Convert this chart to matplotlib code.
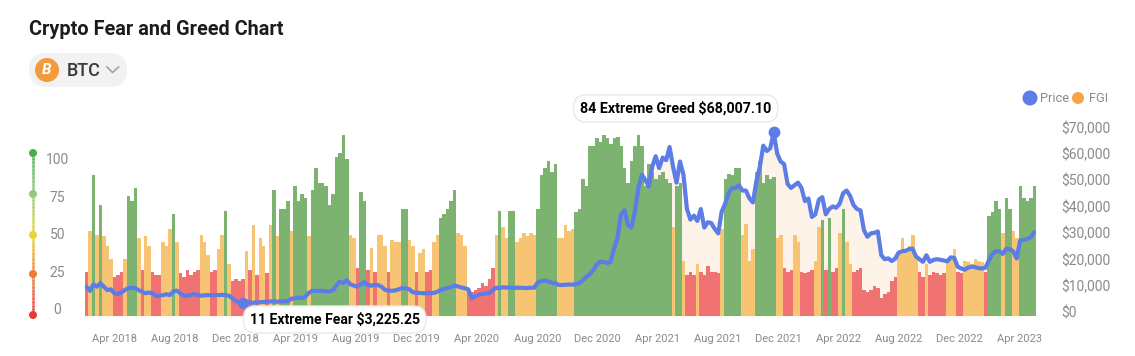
import datetime as dt
import matplotlib
matplotlib.use("Agg")
import matplotlib.pyplot as plt
import matplotlib.dates as mdates
from matplotlib.patches import FancyBboxPatch, Circle
from matplotlib.collections import LineCollection
from matplotlib.colors import to_rgb

plt.rcParams['font.family'] = ['Roboto', 'DejaVu Sans']

start_date = dt.date(2018, 2, 1)
title = "Crypto Fear and Greed Chart"
coin = "BTC"

# Weekly FGI
fgi = [
    24,46,76,44,60,43,38,31,21,22,
    24,31,65,62,69,42,25,43,38,24,
    22,22,40,38,47,55,40,23,21,25,
    22,24,25,44,40,33,24,25,36,44,
    57,28,19,20,19,20,35,25,49,22,
    42,38,23,49,68,43,58,58,62,46,
    70,62,66,64,43,68,80,72,72,70,
    60,66,86,88,98,85,44,42,26,67,
    62,25,37,24,44,44,38,24,41,40,
    40,58,58,41,38,24,34,36,24,25,
    40,44,53,55,58,62,68,45,44,38,
    14,13,14,15,18,16,20,26,44,57,
    48,42,57,57,40,42,45,43,45,44,
    58,76,80,84,78,82,42,42,49,46,
    47,56,58,74,70,92,92,96,94,98,
    96,93,96,97,92,80,72,84,92,98,
    92,70,82,78,74,76,78,74,72,48,
    70,72,30,22,24,22,28,24,22,27,
    24,24,23,47,74,77,76,80,80,44,
    50,30,36,78,84,72,76,74,75,42,
    44,26,24,25,44,40,24,23,24,25,
    30,48,52,25,53,24,26,45,58,40,
    28,24,25,26,14,13,14,16,15,10,
    12,13,19,21,34,42,35,38,44,33,
    24,21,28,22,24,23,22,23,30,32,
    36,24,23,30,29,28,31,30,29,24,
    54,56,62,58,45,64,58,46,42,70,
    64,62,64,70,
]

# Weekly BTC price in thousand dollars
price_k = [
    9.6,8.0,10.5,9.6,10.9,9.6,8.3,8.6,7.1,6.8,
    7.3,8.3,9.0,9.2,9.0,8.3,7.7,7.1,7.4,7.1,
    6.2,6.1,6.4,6.7,6.4,7.7,8.1,7.1,6.2,6.2,
    6.4,6.8,6.4,6.2,6.3,6.4,6.4,6.4,6.4,6.5,
    6.4,6.2,5.2,4.2,3.7,3.2255,3.9,3.6,3.5,3.6,
    3.7,3.8,3.9,4.0,4.0,3.9,4.0,4.0,4.1,5.0,
    5.2,5.4,5.3,5.7,7.2,8.0,8.0,8.0,8.0,7.8,
    7.8,8.2,10.0,11.5,11.0,12.0,10.5,10.0,9.6,10.5,
    11.3,10.2,10.0,10.2,10.2,9.6,8.4,8.1,8.0,8.2,
    8.6,9.1,8.9,8.6,7.5,7.3,7.2,7.1,7.1,7.1,
    7.2,7.6,8.3,8.7,9.0,9.4,10.0,9.7,9.3,9.0,
    8.6,5.2,6.0,6.5,6.8,7.0,7.2,8.2,9.2,9.0,
    9.4,9.2,9.3,9.1,9.2,9.2,9.1,9.1,9.2,9.2,
    11.2,11.7,11.9,11.6,11.1,10.9,10.3,10.2,10.3,10.4,
    10.4,10.5,11.0,12.0,13.2,14.3,15.8,18.0,19.0,19.0,
    18.5,19.0,24.0,28.0,37.0,38.5,33.0,32.0,38.0,46.8,
    52.0,50.0,47.5,55.0,59.0,54.5,58.5,57.5,62.5,55.0,
    49.0,57.0,52.0,39.0,35.0,36.5,34.5,39.0,32.0,34.0,
    33.7,31.5,29.8,38.0,41.0,45.0,47.0,47.0,48.0,46.0,
    46.0,43.0,41.5,49.5,55.0,63.0,61.0,62.0,68.0071,60.0,
    57.0,56.0,48.5,47.0,48.0,49.0,47.0,42.0,43.0,36.0,
    37.0,42.5,43.5,37.0,39.0,40.0,39.5,41.0,45.0,46.0,
    44.0,40.5,39.0,38.5,31.0,28.5,29.8,30.0,30.5,21.5,
    20.0,20.3,19.3,20.2,22.5,23.0,23.2,23.8,24.0,21.0,
    20.0,19.0,21.5,19.0,19.7,20.0,19.8,19.5,19.2,20.7,
    20.5,17.2,16.5,16.0,16.8,17.2,17.0,16.6,16.5,16.8,
    19.5,22.0,23.0,23.0,22.0,24.0,23.8,23.0,20.3,27.0,
    27.3,27.6,28.2,30.2,
]

left_ticks = [0, 25, 50, 75, 100]
price_ticks_k = [0, 10, 20, 30, 40, 50, 60, 70]
low_label = "11 Extreme Fear $3,225.25"
high_label = "84 Extreme Greed $68,007.10"

W, H = 1135, 356
RED, ORANGE, GREEN = "#F07272", "#F7C474", "#7DB371"
BLUE = "#5C7CE6"
CREAM = "#FDF3E8"
GREY = "#8A8A8A"

assert len(fgi) == len(price_k)
n = len(fgi)
bar_starts = [start_date + dt.timedelta(days=7 * i) for i in range(n)]
centres = [d + dt.timedelta(days=3.5) for d in bar_starts]
bar_colors = [RED if v <= 27 else ORANGE if v <= 50 else GREEN for v in fgi]
price = [p * 1000 for p in price_k]

fig = plt.figure(figsize=(W / 100, H / 100), dpi=100)
fig.patch.set_facecolor("white")

# Plot rectangle in pixels
L, R, B, T = 85, 1036, 316, 100
rect = [L / W, 1 - B / H, (R - L) / W, (B - T) / H]

def layer(z):
    a = fig.add_axes(rect, zorder=z)
    a.patch.set_visible(False)
    for s in a.spines.values():
        s.set_visible(False)
    a.set_xlim(mdates.date2num(start_date), mdates.date2num(start_date) + 7 * n)
    a.set_xticks([]); a.set_yticks([])
    return a

PRICE_YLIM = (-4 / 2.64 * 1000, (312 - T) / 2.64 * 1000)

# Decorations in pixel coordinates
deco = fig.add_axes([0, 0, 1, 1], zorder=0)
deco.set_xlim(0, W); deco.set_ylim(H, 0); deco.axis("off")
deco.text(29, 29.5, title, fontsize=14.3, fontweight="bold", color="#1c1c1c", va="center", ha="left")
deco.add_patch(FancyBboxPatch((29 + 17, 53 + 17), 98 - 34, 0, boxstyle="round,pad=17,rounding_size=17",
                              fc="#F2F2F2", ec="none"))
deco.add_patch(Circle((47, 70), 12, fc="#F39A3B", ec="none"))
# Coin logo: the letter B, slanted as in the logo
deco.text(47, 70.5, "B", fontsize=11, fontweight="bold", fontstyle="italic", color="white",
          ha="center", va="center")
deco.text(67, 70.5, coin, fontsize=13, color="#3a3a3a", va="center", ha="left", fontweight="medium")
deco.plot([107, 112.5, 118.5], [67, 72.5, 67], color="#A8A8A8", lw=1.3)

gauge_y = [153, 194, 235, 274, 315]
gauge_c = ["#45B04E", "#97C77F", "#E8D53C", "#EE7B33", "#E83A3A"]
segs, cols = [], []
for i in range(4):
    y0, y1 = gauge_y[i], gauge_y[i + 1]
    c0, c1 = to_rgb(gauge_c[i]), to_rgb(gauge_c[i + 1])
    for k in range(30):
        t0, t1 = k / 30, (k + 1) / 30
        segs.append([(33, y0 + (y1 - y0) * t0), (33, y0 + (y1 - y0) * t1)])
        cols.append(tuple(c0[j] + (c1[j] - c0[j]) * (t0 + t1) / 2 for j in range(3)))
deco.add_collection(LineCollection(segs, colors=cols, linewidths=1.8))
for y, c in zip(gauge_y, gauge_c):
    deco.add_patch(Circle((33, y), 4, fc=c, ec="none"))

deco.add_patch(Circle((1030, 98), 7.5, fc=BLUE, ec="none"))
deco.text(1040, 98.5, "Price", fontsize=9.3, color=GREY, va="center", ha="left")
deco.add_patch(Circle((1078, 98), 6, fc="#F5A345", ec="none"))
deco.text(1089, 98.5, "FGI", fontsize=9.3, color=GREY, va="center", ha="left")

# Cream area under the price
ax_fill = layer(1)
ax_fill.set_ylim(PRICE_YLIM)
ax_fill.fill_between(centres, PRICE_YLIM[0], price, color=CREAM, lw=0)

# FGI bars
ax_bar = layer(2)
ax_bar.set_ylim(0, (B - T) / 1.85)
ax_bar.bar(bar_starts, fgi, width=7, align="edge", color=bar_colors, linewidth=0, antialiased=False)
ax_bar.xaxis.set_major_locator(mdates.MonthLocator(bymonth=[4, 8, 12]))
ax_bar.xaxis.set_major_formatter(mdates.DateFormatter("%b %Y"))
ax_bar.tick_params(axis="x", length=0, pad=13, labelsize=8, labelcolor=GREY)

# Left scale labels, on their own scale
ax_left = layer(3)
ax_left.set_ylim((309 - B) / 1.5, (309 - T) / 1.5)
ax_left.set_yticks(left_ticks)
ax_left.tick_params(axis="y", length=0, pad=19.8, labelsize=10, labelcolor=GREY)
for lab in ax_left.get_yticklabels():
    lab.set_horizontalalignment("center")

# Price line
ax_p = layer(4)
ax_p.set_ylim(PRICE_YLIM)
ax_p.yaxis.tick_right()
ax_p.set_yticks([k * 1000 for k in price_ticks_k])
ax_p.set_yticklabels([f"${k * 1000:,}" for k in price_ticks_k])
ax_p.tick_params(axis="y", length=0, pad=18, labelsize=10, labelcolor=GREY)
ax_p.plot(centres, price, color=BLUE, lw=3.0, solid_joinstyle="round", solid_capstyle="round")

i_low = price_k.index(min(price_k))
i_high = price_k.index(max(price_k))
ax_p.plot([centres[i_low]], [price[i_low]], "o", color=BLUE, ms=8, mew=0, clip_on=False)
ax_p.plot([centres[i_high]], [price[i_high]], "o", color=BLUE, ms=8.5, mew=0, clip_on=False)
box = dict(boxstyle="round,pad=0.45,rounding_size=0.9", fc="white", ec="#E9E9E9", lw=1)
ax_p.annotate(low_label, xy=(centres[i_low], price[i_low]), xytext=(92, -16), textcoords="offset pixels",
              fontsize=10.1, fontweight="bold", color="black", ha="center", va="center", bbox=box,
              annotation_clip=False, zorder=10)
ax_p.annotate(high_label, xy=(centres[i_high], price[i_high]), xytext=(-98, 24), textcoords="offset pixels",
              fontsize=10.3, fontweight="bold", color="black", ha="center", va="center", bbox=box,
              annotation_clip=False, zorder=10)

fig.savefig("out.png", dpi=100)
